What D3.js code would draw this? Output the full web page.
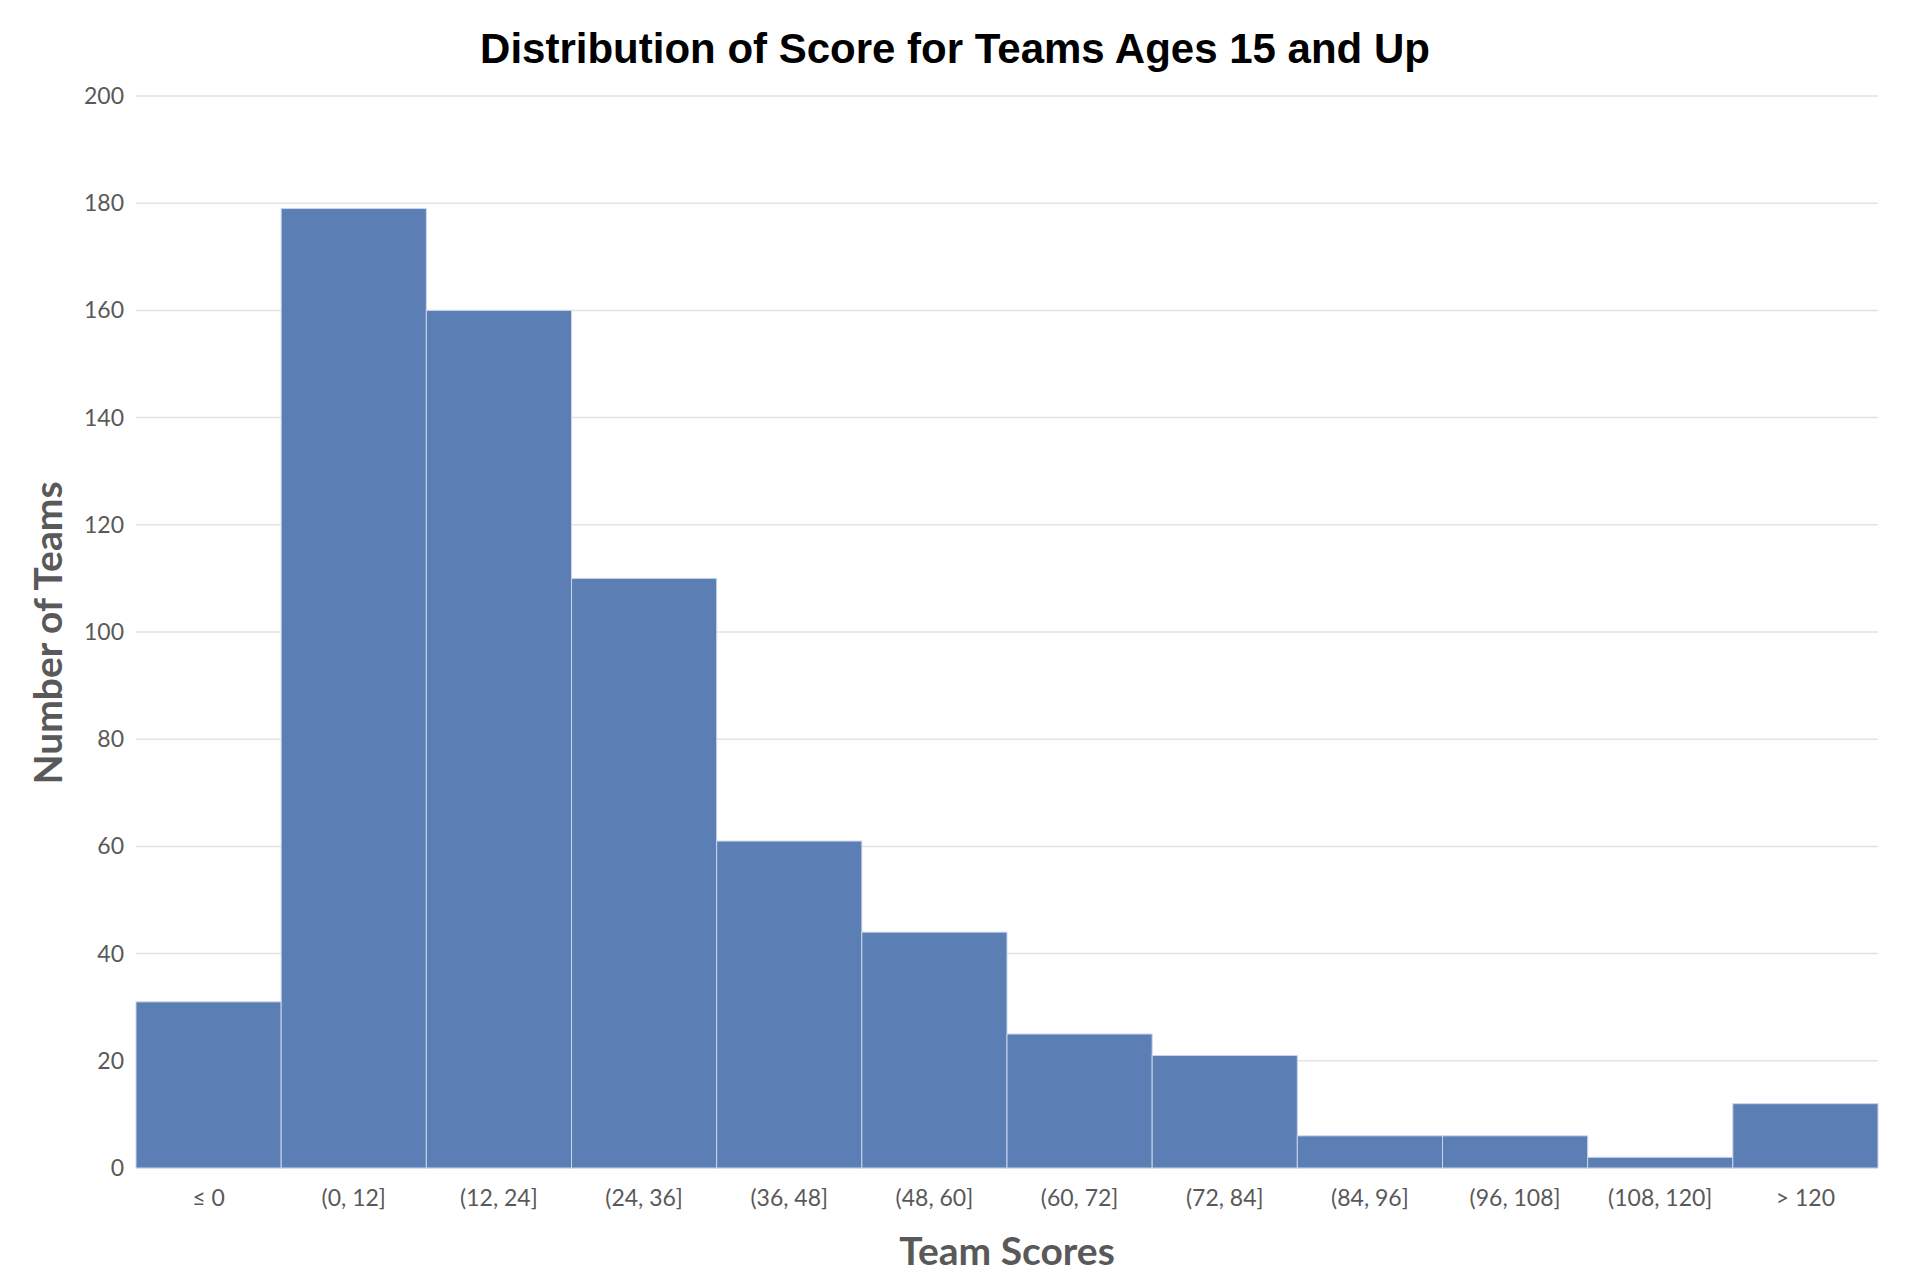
<!DOCTYPE html>
<html>
<head>
<meta charset="utf-8">
<script src="https://cdn.jsdelivr.net/npm/d3@7"></script>
<style>
  body { margin: 0; background: #fff; }
  svg text { font-family: Lato, "Open Sans", sans-serif; }
</style>
</head>
<body>
<div id="chart"></div>
<script>
// data
const bins = ["≤ 0", "(0, 12]", "(12, 24]", "(24, 36]", "(36, 48]", "(48, 60]",
              "(60, 72]", "(72, 84]", "(84, 96]", "(96, 108]", "(108, 120]", "> 120"];
const counts = [31, 179, 160, 110, 61, 44, 25, 21, 6, 6, 2, 12];
const yTicks = [0, 20, 40, 60, 80, 100, 120, 140, 160, 180, 200];

const W = 1910, H = 1276;
const margin = {top: 96, right: 32, bottom: 108, left: 136};
const width = W - margin.left - margin.right,
      height = H - margin.top - margin.bottom;

const svg = d3.select("#chart").append("svg")
    .attr("width", W)
    .attr("height", H);

const g = svg.append("g")
    .attr("transform", `translate(${margin.left},${margin.top})`);

const x = d3.scaleBand()
    .domain(bins)
    .range([0, width])
    .padding(0);

const y = d3.scaleLinear()
    .domain([0, 200])
    .range([height, 0]);

// gridlines
g.append("g")
  .selectAll("line")
  .data(yTicks)
  .join("line")
    .attr("x1", 0)
    .attr("x2", width)
    .attr("y1", d => y(d))
    .attr("y2", d => y(d))
    .attr("stroke", "#e3e3e3")
    .attr("stroke-width", 1.5);

// y tick labels
g.append("g")
  .selectAll("text")
  .data(yTicks)
  .join("text")
    .attr("x", -12)
    .attr("y", d => y(d))
    .attr("dy", "0.35em")
    .attr("text-anchor", "end")
    .attr("fill", "#595959")
    .style("font-size", "23px")
    .text(d => d);

// bars
g.append("g")
  .selectAll("rect")
  .data(counts)
  .join("rect")
    .attr("x", (d, i) => x(bins[i]))
    .attr("y", d => y(d))
    .attr("width", x.bandwidth())
    .attr("height", d => height - y(d))
    .attr("fill", "#5b7fb5")
    .attr("stroke", "#c9d6ea")
    .attr("stroke-width", 1);

// x tick labels
g.append("g")
  .selectAll("text")
  .data(bins)
  .join("text")
    .attr("x", d => x(d) + x.bandwidth() / 2)
    .attr("y", height + 30)
    .attr("dy", "0.35em")
    .attr("text-anchor", "middle")
    .attr("fill", "#595959")
    .style("font-size", "23px")
    .text(d => d);

// title
svg.append("text")
    .attr("x", W / 2)
    .attr("y", 63)
    .attr("text-anchor", "middle")
    .attr("fill", "#000")
    .style("font-family", "'Liberation Sans', Arial, sans-serif")
    .style("font-weight", "bold")
    .style("font-size", "42px")
    .text("Distribution of Score for Teams Ages 15 and Up");

// axis titles
svg.append("text")
    .attr("x", margin.left + width / 2)
    .attr("y", 1265)
    .attr("text-anchor", "middle")
    .attr("fill", "#595959")
    .style("font-weight", "bold")
    .style("font-size", "39px")
    .text("Team Scores");

svg.append("text")
    .attr("transform", `translate(62,633) rotate(-90)`)
    .attr("text-anchor", "middle")
    .attr("fill", "#595959")
    .style("font-weight", "bold")
    .style("font-size", "39px")
    .text("Number of Teams");
</script>
</body>
</html>
